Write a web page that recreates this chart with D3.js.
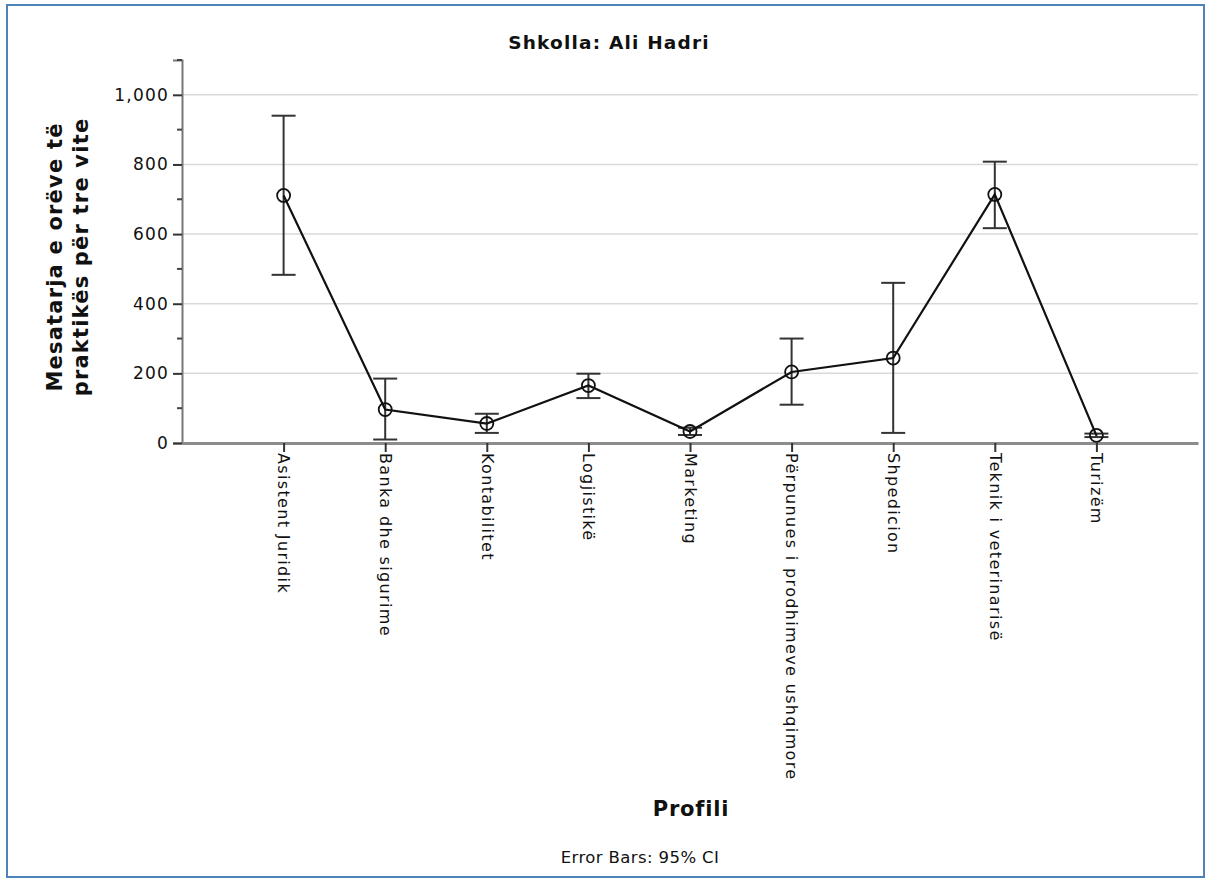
<!DOCTYPE html>
<html><head><meta charset="utf-8">
<script src="https://cdn.jsdelivr.net/npm/d3@7"></script>
<style>body{margin:0;background:#fff;} svg{display:block;}</style>
</head><body>
<svg id="chart" width="1211" height="881"></svg>
<script>
const categories = ["Asistent Juridik","Banka dhe sigurime","Kontabilitet","Logjistikë","Marketing","Përpunues i prodhimeve ushqimore","Shpedicion","Teknik i veterinarisë","Turizëm"];
const means = [711, 96, 56, 165, 33, 204, 244, 714, 22];
const ciLow = [483, 10, 29, 129, 23, 110, 29, 617, 17];
const ciHigh = [940, 185, 84, 199, 44, 300, 460, 808, 27];
const yTicks = [0, 200, 400, 600, 800, 1000];
const yMinorTicks = [100, 300, 500, 700, 900, 1100];

(function () {
const svg = d3.select("#chart");
const font = "'DejaVu Sans', sans-serif";
const pL = 182, pR = 1198, pT = 60, pB = 443;

svg.append("rect").attr("x", 7).attr("y", 5).attr("width", 1197).attr("height", 872)
  .attr("fill", "#fff").attr("stroke", "#4f81bd").attr("stroke-width", 2);

const x = d3.scalePoint().domain(categories).range([pL, pR]).padding(1);
const y = d3.scaleLinear().domain([0, 1100]).range([pB, pT]);

// gridlines
svg.append("g").selectAll("line").data(yTicks.filter(d => d > 0)).join("line")
  .attr("x1", pL).attr("x2", pR).attr("y1", d => y(d)).attr("y2", d => y(d))
  .attr("stroke", "#d9d9d9").attr("stroke-width", 1.5);

// y axis
const yAxis = svg.append("g").attr("transform", `translate(${pL},0)`)
  .call(d3.axisLeft(y).tickValues(yTicks).tickSize(9).tickFormat(d3.format(",")));
yAxis.select(".domain").attr("stroke", "#777").attr("stroke-width", 2);
yAxis.selectAll(".tick line").attr("stroke", "#333").attr("stroke-width", 2);
yAxis.selectAll(".tick text").attr("font-family", font).attr("font-size", 17)
  .attr("letter-spacing", 1.2).attr("fill", "#111").attr("dx", "-1");
svg.append("g").selectAll("line").data(yMinorTicks).join("line")
  .attr("x1", pL - 5).attr("x2", pL).attr("y1", d => y(d)).attr("y2", d => y(d))
  .attr("stroke", "#444").attr("stroke-width", 2);

// x axis
const xAxis = svg.append("g").attr("transform", `translate(0,${pB})`)
  .call(d3.axisBottom(x).tickSize(9).tickSizeOuter(0));
xAxis.select(".domain").attr("stroke", "#8c8c8c").attr("stroke-width", 3);
xAxis.selectAll(".tick line").attr("stroke", "#333").attr("stroke-width", 2);
xAxis.selectAll(".tick text").attr("font-family", font).attr("font-size", 16)
  .attr("letter-spacing", 1.35).attr("fill", "#111")
  .attr("transform", "rotate(90)").attr("text-anchor", "start")
  .attr("x", 10).attr("y", 0).attr("dy", "0.35em");

// error bars
const eb = svg.append("g").attr("stroke", "#333").attr("stroke-width", 2).attr("fill", "none");
categories.forEach((c, i) => {
  const cx = x(c);
  eb.append("line").attr("x1", cx).attr("x2", cx).attr("y1", y(ciLow[i])).attr("y2", y(ciHigh[i]));
  eb.append("line").attr("x1", cx - 12).attr("x2", cx + 12).attr("y1", y(ciLow[i])).attr("y2", y(ciLow[i]));
  eb.append("line").attr("x1", cx - 12).attr("x2", cx + 12).attr("y1", y(ciHigh[i])).attr("y2", y(ciHigh[i]));
});

// mean line
svg.append("path").datum(means)
  .attr("d", d3.line().x((d, i) => x(categories[i])).y(d => y(d)))
  .attr("fill", "none").attr("stroke", "#111").attr("stroke-width", 2.2);

svg.append("g").selectAll("circle").data(means).join("circle")
  .attr("cx", (d, i) => x(categories[i])).attr("cy", d => y(d)).attr("r", 6.5)
  .attr("fill", "none").attr("stroke", "#111").attr("stroke-width", 1.8);

// titles
svg.append("text").attr("x", 609).attr("y", 49).attr("text-anchor", "middle")
  .attr("font-family", font).attr("font-weight", "bold").attr("font-size", 18.5)
  .attr("letter-spacing", 1.2).attr("fill", "#111")
  .text("Shkolla: Ali Hadri");

const yl = svg.append("text").attr("transform", "translate(0,257) rotate(-90)")
  .attr("text-anchor", "middle").attr("font-family", font).attr("font-weight", "bold")
  .attr("font-size", 21).attr("letter-spacing", 1.2).attr("fill", "#111");
yl.append("tspan").attr("x", 0).attr("y", 62).text("Mesatarja e orëve të");
yl.append("tspan").attr("x", 0).attr("y", 88).text("praktikës për tre vite");

svg.append("text").attr("x", 691).attr("y", 816).attr("text-anchor", "middle")
  .attr("font-family", font).attr("font-weight", "bold").attr("font-size", 21)
  .attr("letter-spacing", 0.8).attr("fill", "#111")
  .text("Profili");

svg.append("text").attr("x", 640).attr("y", 863).attr("text-anchor", "middle")
  .attr("font-family", font).attr("font-size", 16.5).attr("letter-spacing", 0.4).attr("fill", "#111")
  .text("Error Bars: 95% CI");
})();
</script>
</body></html>
